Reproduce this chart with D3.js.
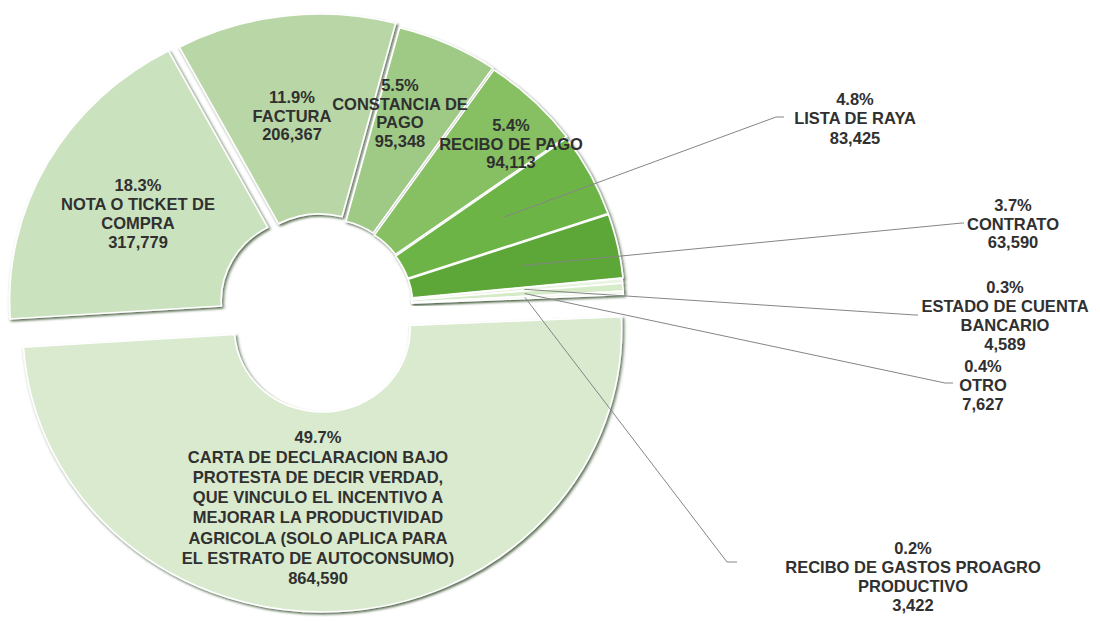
<!DOCTYPE html>
<html>
<head>
<meta charset="utf-8">
<script src="https://cdn.jsdelivr.net/npm/d3@7/dist/d3.min.js"></script>
<style>
  body { margin: 0; background: #fff; }
  svg { display: block; }
  text { font-family: "Liberation Sans", Arial, sans-serif; font-weight: bold; font-size: 16.5px; fill: #303030; }
</style>
</head>
<body>
<div id="chart"></div>
<script>
// data, clockwise from the big slice
var categories = [
    "CARTA DE DECLARACION BAJO PROTESTA DE DECIR VERDAD, QUE VINCULO EL INCENTIVO A MEJORAR LA PRODUCTIVIDAD AGRICOLA (SOLO APLICA PARA EL ESTRATO DE AUTOCONSUMO)",
    "NOTA O TICKET DE COMPRA",
    "FACTURA",
    "CONSTANCIA DE PAGO",
    "RECIBO DE PAGO",
    "LISTA DE RAYA",
    "CONTRATO",
    "ESTADO DE CUENTA BANCARIO",
    "OTRO",
    "RECIBO DE GASTOS PROAGRO PRODUCTIVO"
];
var values = [864590, 317779, 206367, 95348, 94113, 83425, 63590, 4589, 7627, 3422];

// how the category names wrap in the labels
var labelLines = [
    ["CARTA DE DECLARACION BAJO", "PROTESTA DE DECIR VERDAD,", "QUE VINCULO EL INCENTIVO A",
     "MEJORAR LA PRODUCTIVIDAD", "AGRICOLA (SOLO APLICA PARA", "EL ESTRATO DE AUTOCONSUMO)"],
    ["NOTA O TICKET DE", "COMPRA"],
    ["FACTURA"],
    ["CONSTANCIA DE", "PAGO"],
    ["RECIBO DE PAGO"],
    ["LISTA DE RAYA"],
    ["CONTRATO"],
    ["ESTADO DE CUENTA", "BANCARIO"],
    ["OTRO"],
    ["RECIBO DE GASTOS PROAGRO", "PRODUCTIVO"]
];

var width = 1100, height = 621;
var cx = 321, cy = 307, outerR = 283, innerR = 83, sx = 1.058;
var startDeg = 87.5;

var colors = ["#d9eacf", "#cbe2bf", "#b8d6a6", "#9fca86", "#86c064", "#6db446", "#5ca738",
              "#e9f4e1", "#d6ebc8", "#f2f8ee"];
var explode = [22, 13, 10, 6, 5, 4, 4, 3, 3, 3];

// label centre x, middle of first line, line step
var labelPos = [
    {x: 318, y: 437, step: 20.1},
    {x: 138, y: 185, step: 19},
    {x: 292, y: 97, step: 18.6},
    {x: 400, y: 85, step: 18.6},
    {x: 511, y: 125, step: 18.6},
    {x: 855, y: 99, step: 19.3},
    {x: 1013, y: 205, step: 18.6},
    {x: 1005, y: 287, step: 19},
    {x: 983, y: 366, step: 19},
    {x: 913, y: 548, step: 19}
];
// leader elbow (x, y) and end x
var leaders = [null, null, null, null, null,
    [776, 117, 784], [962, 223, 964], [915, 315, 918], [945, 383, 953], [727, 562, 737]];

var svg = d3.select("#chart").append("svg")
    .attr("width", width)
    .attr("height", height);

var defs = svg.append("defs");
var shadow = defs.append("filter").attr("id", "bevel")
    .attr("x", "-20%").attr("y", "-20%").attr("width", "140%").attr("height", "140%");
shadow.append("feDropShadow")
    .attr("dx", 1.5).attr("dy", 1.8).attr("stdDeviation", 1.3)
    .attr("flood-color", "#2e4825").attr("flood-opacity", 0.8);

var a0 = startDeg * Math.PI / 180;
var pie = d3.pie()
    .sort(null)
    .value(function(d) { return d; })
    .startAngle(a0)
    .endAngle(a0 + 2 * Math.PI);

var arc = d3.arc()
    .innerRadius(innerR)
    .outerRadius(outerR);

var arcs = pie(values);

function mid(d) { return (d.startAngle + d.endAngle) / 2; }

var g = svg.append("g")
    .attr("transform", "translate(" + cx + "," + cy + ") scale(" + sx + ",1)");

g.selectAll(".slice")
    .data(arcs)
  .enter().append("path")
    .attr("class", "slice")
    .attr("d", arc)
    .attr("transform", function(d, i) {
        var a = mid(d);
        return "translate(" + (Math.sin(a) * explode[i]) + "," + (-Math.cos(a) * explode[i]) + ")";
    })
    .style("fill", function(d, i) { return colors[i]; })
    .style("stroke", "#fff")
    .style("stroke-width", 1.6)
    .attr("filter", "url(#bevel)");

// leader lines for the labels outside the ring
var leadR = 190;
svg.selectAll(".leader")
    .data(arcs.filter(function(d, i) { return leaders[i]; }))
  .enter().append("polyline")
    .attr("class", "leader")
    .attr("points", function(d) {
        var i = d.index, a = mid(d), r = leadR + explode[i];
        var x0 = cx + sx * Math.sin(a) * r, y0 = cy - Math.cos(a) * r;
        var L = leaders[i];
        return [x0, y0, L[0], L[1], L[2], L[1]].join(",");
    })
    .style("fill", "none")
    .style("stroke", "#858585")
    .style("stroke-width", 1);

var pct = d3.format(".1%"), num = d3.format(",");
var total = d3.sum(values);

var labels = svg.selectAll(".lbl")
    .data(arcs)
  .enter().append("text")
    .attr("class", "lbl")
    .attr("text-anchor", "middle");

labels.each(function(d, i) {
    var p = labelPos[i];
    var lines = [pct(d.data / total)].concat(labelLines[i]).concat([num(d.data)]);
    var t = d3.select(this);
    lines.forEach(function(s, k) {
        t.append("tspan")
            .attr("x", p.x)
            .attr("y", p.y + k * p.step + 6)
            .text(s);
    });
});
</script>
</body>
</html>
